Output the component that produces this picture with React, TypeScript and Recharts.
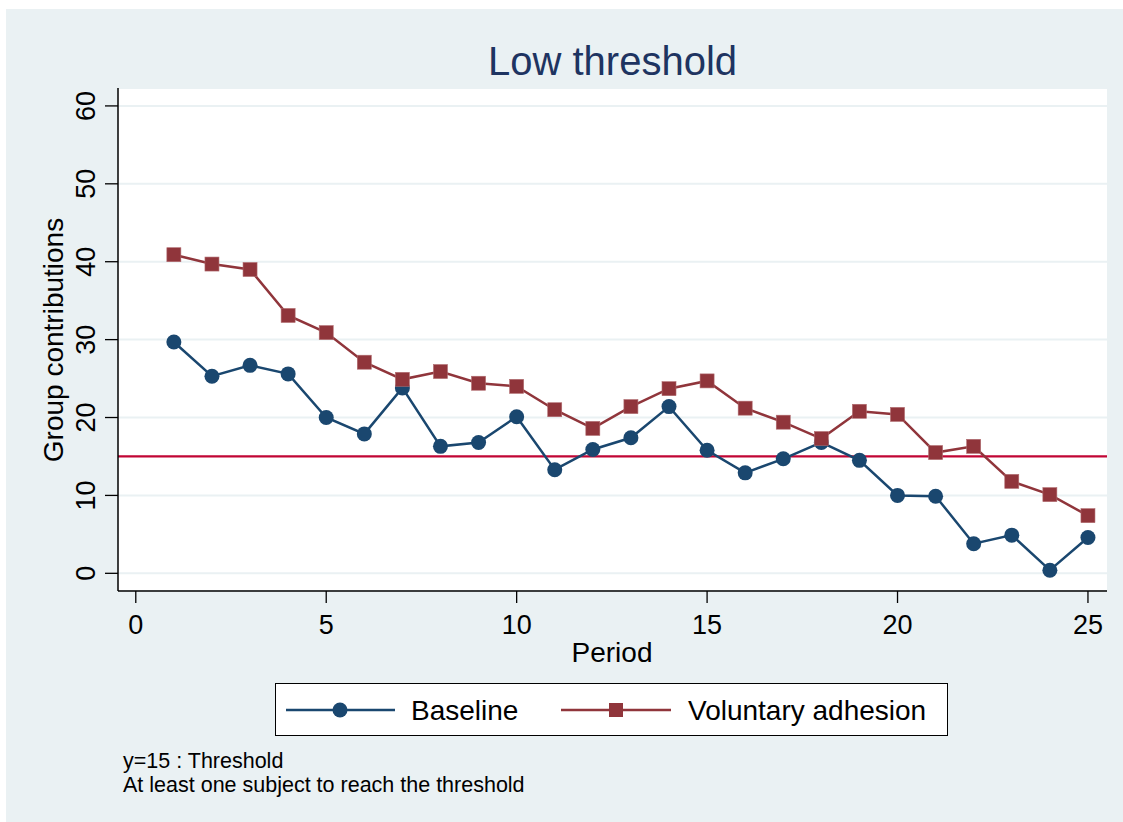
import React from 'react';
import { LineChart, Line, XAxis, YAxis, CartesianGrid, ReferenceLine } from 'recharts';

const periods = [1,2,3,4,5,6,7,8,9,10,11,12,13,14,15,16,17,18,19,20,21,22,23,24,25];
const baseline = [29.7,25.3,26.7,25.6,20.0,17.9,23.8,16.3,16.8,20.1,13.3,15.9,17.4,21.4,15.8,12.9,14.7,16.8,14.5,10.0,9.9,3.8,4.9,0.4,4.6];
const voluntary = [40.9,39.7,39.0,33.1,30.9,27.1,24.9,25.9,24.4,24.0,21.0,18.6,21.4,23.7,24.7,21.2,19.4,17.3,20.8,20.4,15.5,16.3,11.8,10.1,7.4];
const xTicks = [0,5,10,15,20,25];
const yTicks = [0,10,20,30,40,50,60];
const threshold = 15;
const seriesNames = ['Baseline', 'Voluntary adhesion'];
const titleText = 'Low threshold';
const xTitle = 'Period';
const yTitle = 'Group contributions';
const notes = ['y=15 : Threshold', 'At least one subject to reach the threshold'];

const data = periods.map((p, i) => ({ period: p, baseline: baseline[i], voluntary: voluntary[i] }));

const BLUE = '#1a476f';
const RED = '#90353b';
const FONT = '"Liberation Sans", Arial, sans-serif';

const YTick = (props: any) => {
  const { y, payload } = props;
  const x = 95;
  return (
    <text x={x} y={y} transform={`rotate(-90, ${x}, ${y})`} textAnchor="middle" fontSize={27} fontFamily={FONT} fill="#000">
      {payload.value}
    </text>
  );
};

const XTick = (props: any) => {
  const { x, payload } = props;
  return (
    <text x={x} y={634} textAnchor="middle" fontSize={27} fontFamily={FONT} fill="#000">
      {payload.value}
    </text>
  );
};

const SquareDot = (props: any) => {
  const { cx, cy, index } = props;
  if (cx == null || cy == null) return null;
  return <rect key={`sq-${index}`} x={cx - 7} y={cy - 7} width={14} height={14} fill={RED} stroke="#b06a6e" strokeWidth={0.6} />;
};

const LegendBox = () => (
  <div style={{ position: 'absolute', left: 275, top: 683, width: 673, height: 53, boxSizing: 'border-box', border: '1.3px solid #000', background: '#fff', fontFamily: FONT }}>
    <svg width={673} height={53} style={{ position: 'absolute', left: -1, top: -1 }}>
      <line x1={11} x2={120} y1={27} y2={27} stroke={BLUE} strokeWidth={2.5} />
      <circle cx={65} cy={27} r={7.5} fill={BLUE} />
      <text x={136} y={37} fontSize={28} fontFamily={FONT} fill="#000">{seriesNames[0]}</text>
      <line x1={286} x2={396} y1={27} y2={27} stroke={RED} strokeWidth={2.5} />
      <rect x={334} y={20} width={14} height={14} fill={RED} />
      <text x={413} y={37} fontSize={28} fontFamily={FONT} fill="#000">{seriesNames[1]}</text>
    </svg>
  </div>
);

export default function App() {
  return (
    <div style={{ position: 'absolute', left: 0, top: 0, width: 1123, height: 822, background: '#fff', overflow: 'hidden' }}>
      <div style={{ position: 'absolute', left: 6, top: 9, right: 0, bottom: 0, background: '#eaf1f3' }} />
      <div style={{ position: 'absolute', left: 0, top: 0 }}>
        <LineChart width={1123} height={822} data={data} margin={{ top: 88, right: 16, bottom: 0, left: 0 }}>
          <CartesianGrid horizontal vertical={false} fill="#ffffff" stroke="#eaf1f3" strokeWidth={2} />
          <XAxis
            dataKey="period"
            type="number"
            domain={[-0.467, 25.5]}
            ticks={xTicks}
            allowDataOverflow
            height={231}
            tickSize={12}
            tick={<XTick />}
            axisLine={{ stroke: '#000', strokeWidth: 1.5 }}
            tickLine={{ stroke: '#000', strokeWidth: 1.3 }}
          />
          <YAxis
            type="number"
            domain={[-2.27, 62.3]}
            ticks={yTicks}
            allowDataOverflow
            width={118}
            tickSize={13}
            tick={<YTick />}
            axisLine={{ stroke: '#000', strokeWidth: 1.5 }}
            tickLine={{ stroke: '#000', strokeWidth: 1.3 }}
          />
          <ReferenceLine y={threshold} stroke="#c10534" strokeWidth={2.2} />
          <Line
            type="linear"
            dataKey="baseline"
            name={seriesNames[0]}
            stroke={BLUE}
            strokeWidth={2.5}
            dot={{ r: 7.5, fill: BLUE, stroke: 'none' }}
            activeDot={false}
            isAnimationActive={false}
          />
          <Line
            type="linear"
            dataKey="voluntary"
            name={seriesNames[1]}
            stroke={RED}
            strokeWidth={2.5}
            dot={<SquareDot />}
            activeDot={false}
            isAnimationActive={false}
          />
        </LineChart>
      </div>
      <LegendBox />
      <div style={{ position: 'absolute', left: 0, width: 1225, top: 38, textAlign: 'center', fontFamily: FONT, fontSize: 40, color: '#1e3461', lineHeight: '46px' }}>
        {titleText}
      </div>
      <svg width={1123} height={822} style={{ position: 'absolute', left: 0, top: 0, pointerEvents: 'none' }}>
        <text x={612} y={662} textAnchor="middle" fontSize={28} fontFamily={FONT} fill="#000">{xTitle}</text>
        <text x={63} y={340} transform="rotate(-90, 63, 340)" textAnchor="middle" fontSize={28} fontFamily={FONT} fill="#000">{yTitle}</text>
        <text x={123} y={768} fontSize={21.5} fontFamily={FONT} fill="#000">{notes[0]}</text>
        <text x={123} y={792} fontSize={21.5} fontFamily={FONT} fill="#000">{notes[1]}</text>
      </svg>
    </div>
  );
}
